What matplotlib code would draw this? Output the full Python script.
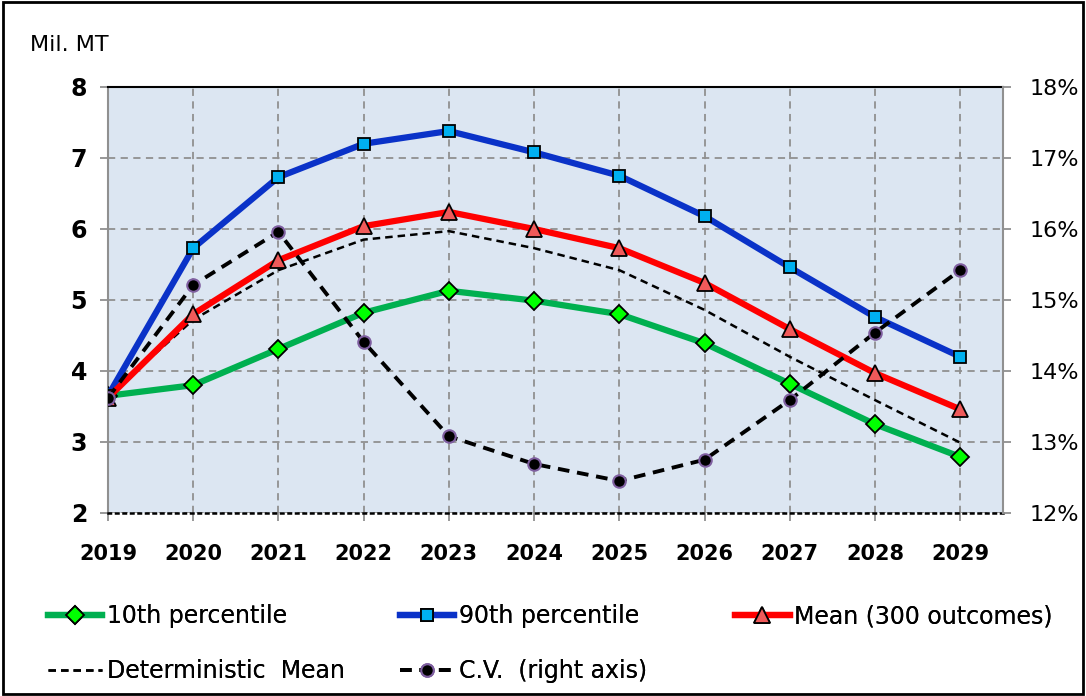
import matplotlib.pyplot as plt
from matplotlib.ticker import FuncFormatter

years = [2019, 2020, 2021, 2022, 2023, 2024, 2025, 2026, 2027, 2028, 2029]
p10 = [3.65, 3.80, 4.31, 4.82, 5.13, 4.99, 4.80, 4.39, 3.82, 3.25, 2.79]
p90 = [3.65, 5.73, 6.73, 7.20, 7.38, 7.08, 6.75, 6.18, 5.46, 4.76, 4.20]
mean300 = [3.62, 4.80, 5.56, 6.04, 6.24, 6.00, 5.73, 5.24, 4.59, 3.97, 3.46]
det_mean = [3.65, 4.72, 5.42, 5.85, 5.97, 5.73, 5.42, 4.86, 4.20, 3.59, 2.99]
cv = [13.62, 15.21, 15.96, 14.41, 13.08, 12.69, 12.45, 12.75, 13.59, 14.54, 15.42]

plt.rcParams['font.family'] = ['DejaVu Sans']

fig = plt.figure(figsize=(10.86, 6.96), dpi=100)
ax = fig.add_axes([0.0994, 0.263, 0.824, 0.612])
ax.set_facecolor('#DCE6F2')

l10, = ax.plot(years, p10, color='#00B050', lw=4.5, marker='D', ms=9,
               mfc='#00FF00', mec='black', mew=1.3, label='10th percentile', zorder=4)
l90, = ax.plot(years, p90, color='#0A32C8', lw=4.5, marker='s', ms=9,
               mfc='#00B0F0', mec='black', mew=1.3, label='90th percentile', zorder=4)
lm, = ax.plot(years, mean300, color='#FF0000', lw=4.5, marker='^', ms=12,
              mfc='#F05A5A', mec='black', mew=1.3, label='Mean (300 outcomes)', zorder=5)
ld, = ax.plot(years, det_mean, color='black', lw=1.8, ls=(0, (3, 2)),
              label='Deterministic  Mean', zorder=3)

ax.set_xlim(2019, 2029.5)
ax.set_ylim(2, 8)
ax.set_xticks(years)
ax.set_yticks(range(2, 9))
ax.grid(True, color='#909090', ls=(0, (4, 3)), lw=1.3)
ax.set_axisbelow(True)
ax.tick_params(axis='x', labelsize=15, pad=16)
ax.tick_params(axis='y', labelsize=17, pad=9)
ax.tick_params(axis='both', length=6, color='#909090', width=1.3)
for lab in ax.get_xticklabels() + ax.get_yticklabels():
    lab.set_fontweight('bold')
ax.spines['left'].set_color('#909090')
ax.spines['left'].set_linewidth(1.5)
ax.spines['right'].set_visible(False)
ax.spines['top'].set_color('black')
ax.spines['top'].set_linewidth(1.5)
ax.spines['bottom'].set_color('black')
ax.spines['bottom'].set_linestyle((0, (1, 2)))
ax.spines['bottom'].set_linewidth(1.8)

ax2 = ax.twinx()
lcv, = ax2.plot(years, cv, color='black', lw=2.8, ls=(0, (3, 2)), marker='o', ms=9,
                mfc='black', mec='#7F5FA0', mew=1.5, label='C.V.  (right axis)', zorder=6)
ax2.set_ylim(12, 18)
ax2.set_yticks(range(12, 19))
ax2.yaxis.set_major_formatter(FuncFormatter(lambda v, p: f'{int(v)}%'))
ax2.tick_params(axis='y', labelsize=16, length=6, color='#909090', width=1.3, pad=13)
ax2.spines['right'].set_color('#909090')
ax2.spines['right'].set_linewidth(1.5)
for s in ['left', 'top', 'bottom']:
    ax2.spines[s].set_visible(False)

fig.text(0.028, 0.935, 'Mil. MT', fontsize=16, va='center', ha='left')

leg_kw = dict(loc='upper left', frameon=False, prop={'size': 17},
              handlelength=2.3, handletextpad=0.2, labelspacing=1.3,
              borderpad=0, borderaxespad=0)
columns = [([l10, ld], 0.044), ([l90, lcv], 0.368), ([lm], 0.677)]
for hs, x0 in columns:
    leg = fig.legend(handles=hs, labels=[h.get_label() for h in hs],
                     bbox_to_anchor=(x0, 0.132), **leg_kw)
    fig.add_artist(leg)

border = plt.Rectangle((0.003, 0.003), 0.994, 0.994, transform=fig.transFigure,
                       fill=False, edgecolor='black', lw=2)
fig.patches.append(border)

fig.savefig('out.png', dpi=100)
